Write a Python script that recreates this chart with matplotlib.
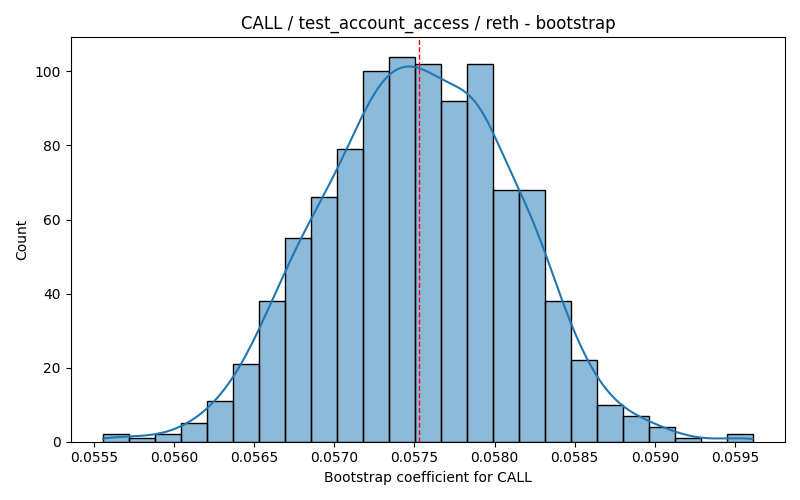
import numpy as np
import pandas as pd
import matplotlib
matplotlib.use("Agg")
import matplotlib.pyplot as plt
import seaborn as sns

# histogram (1000 bootstrap draws, 25 bins)
bin_lo = 0.055558
bin_hi = 0.059609
counts = [2, 1, 2, 5, 11, 21, 38, 55, 66, 79, 100, 104, 102,
          92, 102, 68, 68, 38, 22, 10, 7, 4, 1, 0, 2]
point_estimate = 0.057526

title = "CALL / test_account_access / reth - bootstrap"
xlabel = "Bootstrap coefficient for CALL"

edges = np.linspace(bin_lo, bin_hi, len(counts) + 1)
centers = (edges[:-1] + edges[1:]) / 2
# zero-weight points at the outer edges so the kde spans the full range
xs = np.concatenate([[bin_lo], centers, [bin_hi]])
ws = np.concatenate([[0], counts, [0]])
df = pd.DataFrame({"coef": xs, "n": ws})

fig, ax = plt.subplots(figsize=(8, 5), dpi=100)
# bin centres weighted by count; bw_adjust brings the effective sample
# size back from ~13 weighted points to the 1000 draws
sns.histplot(data=df, x="coef", weights="n", bins=len(counts),
             binrange=(bin_lo, bin_hi), kde=True,
             kde_kws={"bw_adjust": 0.4}, ax=ax)
ax.axvline(point_estimate, color="red", linestyle="--", linewidth=1)
ax.set_title(title)
ax.set_xlabel(xlabel)
ax.set_ylabel("Count")
plt.tight_layout()
plt.savefig("out.png")
